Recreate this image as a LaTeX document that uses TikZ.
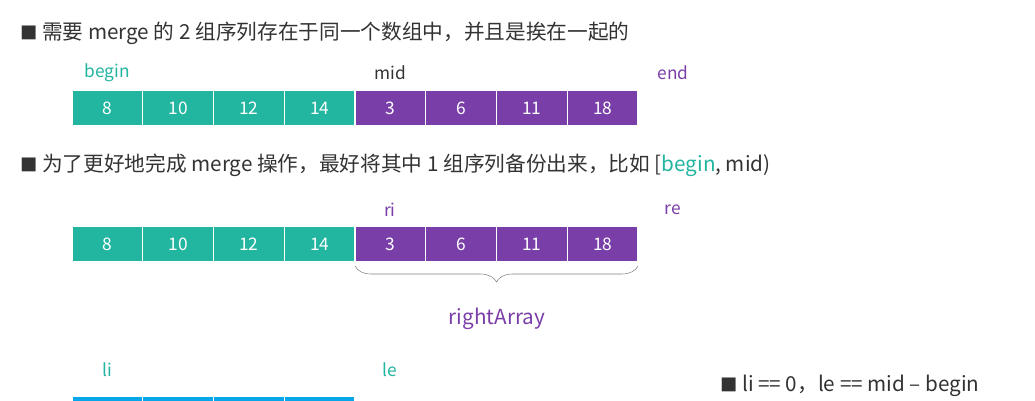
\documentclass[tikz,border=0pt]{standalone}
\usepackage{fontspec}
\setmainfont{Noto Sans CJK SC}
\usetikzlibrary{positioning,decorations.pathreplacing}
\definecolor{tealc}{HTML}{22B5A0}
\definecolor{purc}{HTML}{7A3EA8}
\definecolor{cyanc}{HTML}{06A6E8}
\definecolor{txt}{HTML}{333333}
\tikzset{
  cell/.style={draw=white,line width=0.8pt,minimum width=53pt,minimum height=26pt,inner sep=0pt,text=white,font=\fontsize{13}{13}\selectfont},
  lbl/.style={font=\fontsize{13}{13}\selectfont},
  line/.style={anchor=west,text=txt,font=\fontsize{15.5}{15.5}\selectfont,inner sep=0pt}
}
\begin{document}
\begin{tikzpicture}[x=0.75pt,y=-0.75pt]
	\useasboundingbox[fill=white] (0,0) rectangle (1035,400);

	%first line
	\node[line] (t1) at (20,33) {\fontsize{13}{13}\selectfont■\fontsize{15.5}{15.5}\selectfont\ 需要 merge 的 2 组序列存在于同一个数组中，并且是挨在一起的};
	\foreach \v [count=\i] in {8,10,12,14,3,6,11,18} {
		\ifnum\i<5 \def\c{tealc}\else\def\c{purc}\fi
		\node[cell,fill=\c] (a\i) at ({72+70.75*(\i-0.5)},108) {\v};
	}
	\node[lbl,text=tealc] (begin) at (107,73) {begin};
	\node[lbl,text=txt] (mid) at (390,73) {mid};
	\node[lbl,text=purc] (end) at (673,73) {end};

	%second line
	\node[line] (t2) at (20,165) {\fontsize{13}{13}\selectfont■\fontsize{15.5}{15.5}\selectfont\ 为了更好地完成 merge 操作，最好将其中 1 组序列备份出来，比如 [\textcolor{tealc}{begin}, mid)};
	\foreach \v [count=\i] in {8,10,12,14,3,6,11,18} {
		\ifnum\i<5 \def\c{tealc}\else\def\c{purc}\fi
		\node[cell,fill=\c] (b\i) at ({72+70.75*(\i-0.5)},244) {\v};
	}
	\node[lbl,text=purc] (ri) at (390,210) {ri};
	\node[lbl,text=purc] (re) at (673,210) {re};

	%brace
	\coordinate (bl) at (355,266);
	\coordinate (br) at (638,266);
	\draw[gray,thin,decorate,decoration={brace,mirror,amplitude=12pt}] (bl) -- (br);
	\node[lbl,text=purc,font=\fontsize{15.5}{15.5}\selectfont] (right) at (497,319) {rightArray};

	%left copy
	\foreach \v [count=\i] in {8,10,12,14} {
		\node[cell,fill=cyanc] (c\i) at ({72+70.75*(\i-0.5)},414) {\v};
	}
	\node[lbl,text=tealc] (li) at (107,370) {li};
	\node[lbl,text=tealc] (le) at (390,370) {le};

	\node[line] (t3) at (720,386) {\fontsize{13}{13}\selectfont■\fontsize{15.5}{15.5}\selectfont\ li == 0，le == mid – begin};
\end{tikzpicture}
\end{document}
